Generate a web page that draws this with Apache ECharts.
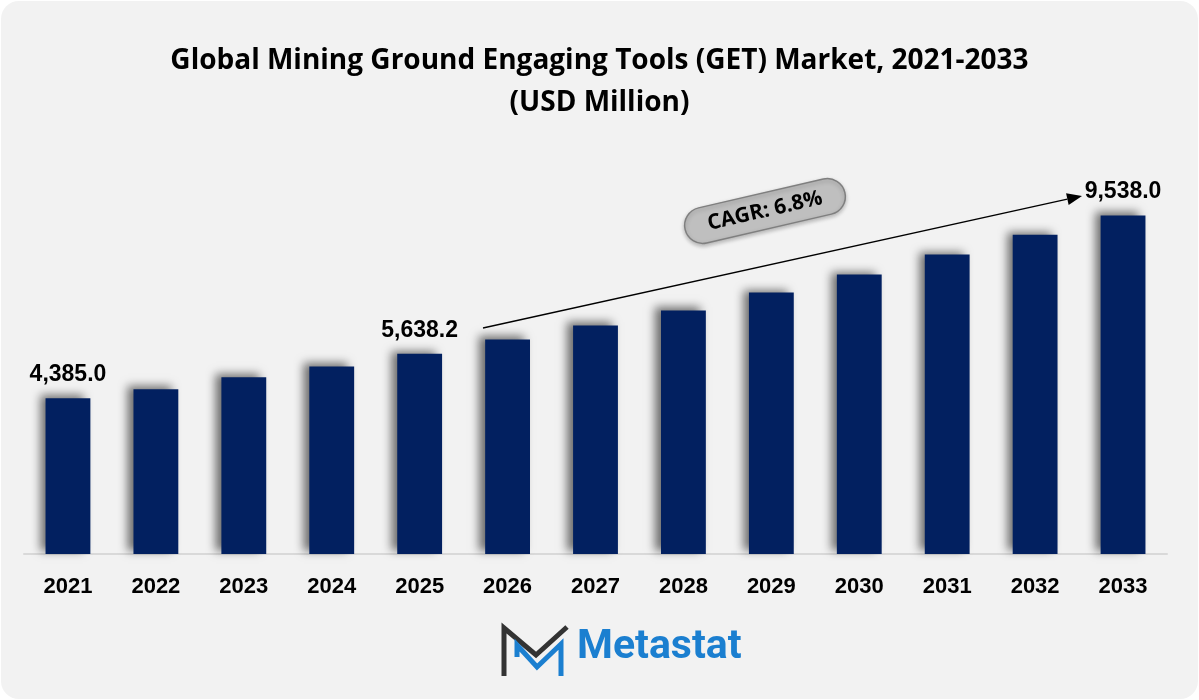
<!DOCTYPE html>
<html>
<head>
<meta charset="utf-8">
<script src="https://cdn.jsdelivr.net/npm/echarts@6/dist/echarts.min.js"></script>
<style>
    html, body {
        margin: 0;
        padding: 0;
        background: #ffffff;
    }
    #chart {
        width: 1197px;
        height: 698px;
        margin: 1px;
        background: #f2f2f2;
        border-radius: 18px;
        overflow: hidden;
    }
</style>
</head>
<body>
<div id="chart"></div>
<script>
// chart data
const years = ['2021', '2022', '2023', '2024', '2025', '2026', '2027',
    '2028', '2029', '2030', '2031', '2032', '2033'];
const marketSize = [4385.0, 4638, 4976, 5285, 5638.2, 6044, 6438,
    6860, 7366, 7872, 8434, 8996, 9538.0];
// only these years carry a value label
const labelledYears = ['2021', '2025', '2033'];
const cagrText = 'CAGR: 6.8%';
const titleText = 'Global Mining Ground Engaging Tools (GET) Market, 2021-2033\n(USD Million)';

const titleFont = '"Open Sans", sans-serif';
const numFont = '"Liberation Sans", Arial, sans-serif';

const seriesData = marketSize.map((v, i) => ({
    value: v,
    label: {
        show: labelledYears.indexOf(years[i]) > -1
    }
}));

// arrow geometry (decoration)
const arrowStart = [482, 327];
const arrowTip = [1081, 195];
const dx = arrowTip[0] - arrowStart[0];
const dy = arrowTip[1] - arrowStart[1];
const len = Math.sqrt(dx * dx + dy * dy);
const ux = dx / len;
const uy = dy / len;
const headLen = 15;
const headHalf = 6;
const base = [arrowTip[0] - ux * headLen, arrowTip[1] - uy * headLen];

const chart = echarts.init(document.getElementById('chart'));

chart.setOption({
    backgroundColor: 'transparent',
    animation: false,
    title: {
        text: titleText,
        left: 'center',
        top: 34,
        textStyle: {
            fontFamily: titleFont,
            fontWeight: 'bold',
            fontSize: 28,
            lineHeight: 42,
            color: '#000000'
        }
    },
    grid: {
        left: 23,
        right: 31,
        top: 198,
        bottom: 145
    },
    xAxis: {
        type: 'category',
        data: years,
        axisTick: {show: false},
        axisLine: {
            lineStyle: {color: '#d9d9d9', width: 2}
        },
        axisLabel: {
            margin: 22,
            fontFamily: numFont,
            fontWeight: 'bold',
            fontSize: 22,
            color: '#000000'
        }
    },
    yAxis: {
        type: 'value',
        min: 0,
        max: 10000,
        show: false,
        splitLine: {show: false}
    },
    series: [{
        type: 'bar',
        data: seriesData,
        barWidth: '51%',
        itemStyle: {
            color: '#022060',
            shadowColor: 'rgba(0, 0, 0, 0.55)',
            shadowBlur: 9,
            shadowOffsetX: -6,
            shadowOffsetY: -3
        },
        label: {
            position: 'top',
            distance: 12,
            formatter: p => p.value.toLocaleString('en-US', {
                minimumFractionDigits: 1,
                maximumFractionDigits: 1
            }),
            fontFamily: numFont,
            fontWeight: 'bold',
            fontSize: 23,
            color: '#000000'
        }
    }],
    graphic: [
        // CAGR arrow
        {
            type: 'polyline',
            shape: {points: [arrowStart, base]},
            style: {stroke: '#000000', lineWidth: 1.3, fill: null},
            z: 10
        },
        {
            type: 'polygon',
            shape: {
                points: [
                    arrowTip,
                    [base[0] - uy * headHalf, base[1] + ux * headHalf],
                    [base[0] + uy * headHalf, base[1] - ux * headHalf]
                ]
            },
            style: {fill: '#000000'},
            z: 10
        },
        // CAGR bubble
        {
            type: 'group',
            x: 764,
            y: 210,
            rotation: 13 * Math.PI / 180,
            z: 10,
            children: [
                {
                    type: 'rect',
                    shape: {x: -82, y: -18, width: 164, height: 36, r: 18},
                    style: {
                        fill: '#bfbfbf',
                        stroke: '#7f7f7f',
                        lineWidth: 1.5,
                        shadowColor: 'rgba(0,0,0,0.25)',
                        shadowBlur: 4,
                        shadowOffsetY: 2
                    }
                },
                {
                    type: 'text',
                    style: {
                        text: cagrText,
                        x: 0,
                        y: 0,
                        align: 'center',
                        verticalAlign: 'middle',
                        fontFamily: titleFont,
                        fontWeight: 'bold',
                        fontSize: 21,
                        fill: '#000000'
                    }
                }
            ]
        },
        // Metastat logo
        {
            type: 'polyline',
            shape: {points: [[503, 675], [503, 627], [535, 654], [566, 626]]},
            style: {stroke: '#333333', lineWidth: 5, fill: null, lineJoin: 'miter'}
        },
        {
            type: 'polyline',
            shape: {points: [[516, 656], [516, 644], [536, 666], [560, 643], [560, 675]]},
            style: {stroke: '#1b7fd0', lineWidth: 5, fill: null, lineJoin: 'miter'}
        },
        {
            type: 'text',
            left: 576,
            top: 626,
            style: {
                text: 'Metastat',
                fontFamily: 'Roboto, "Liberation Sans", sans-serif',
                fontWeight: 'bold',
                fontSize: 41,
                fill: '#1b7fd0'
            }
        }
    ]
});
</script>
</body>
</html>
